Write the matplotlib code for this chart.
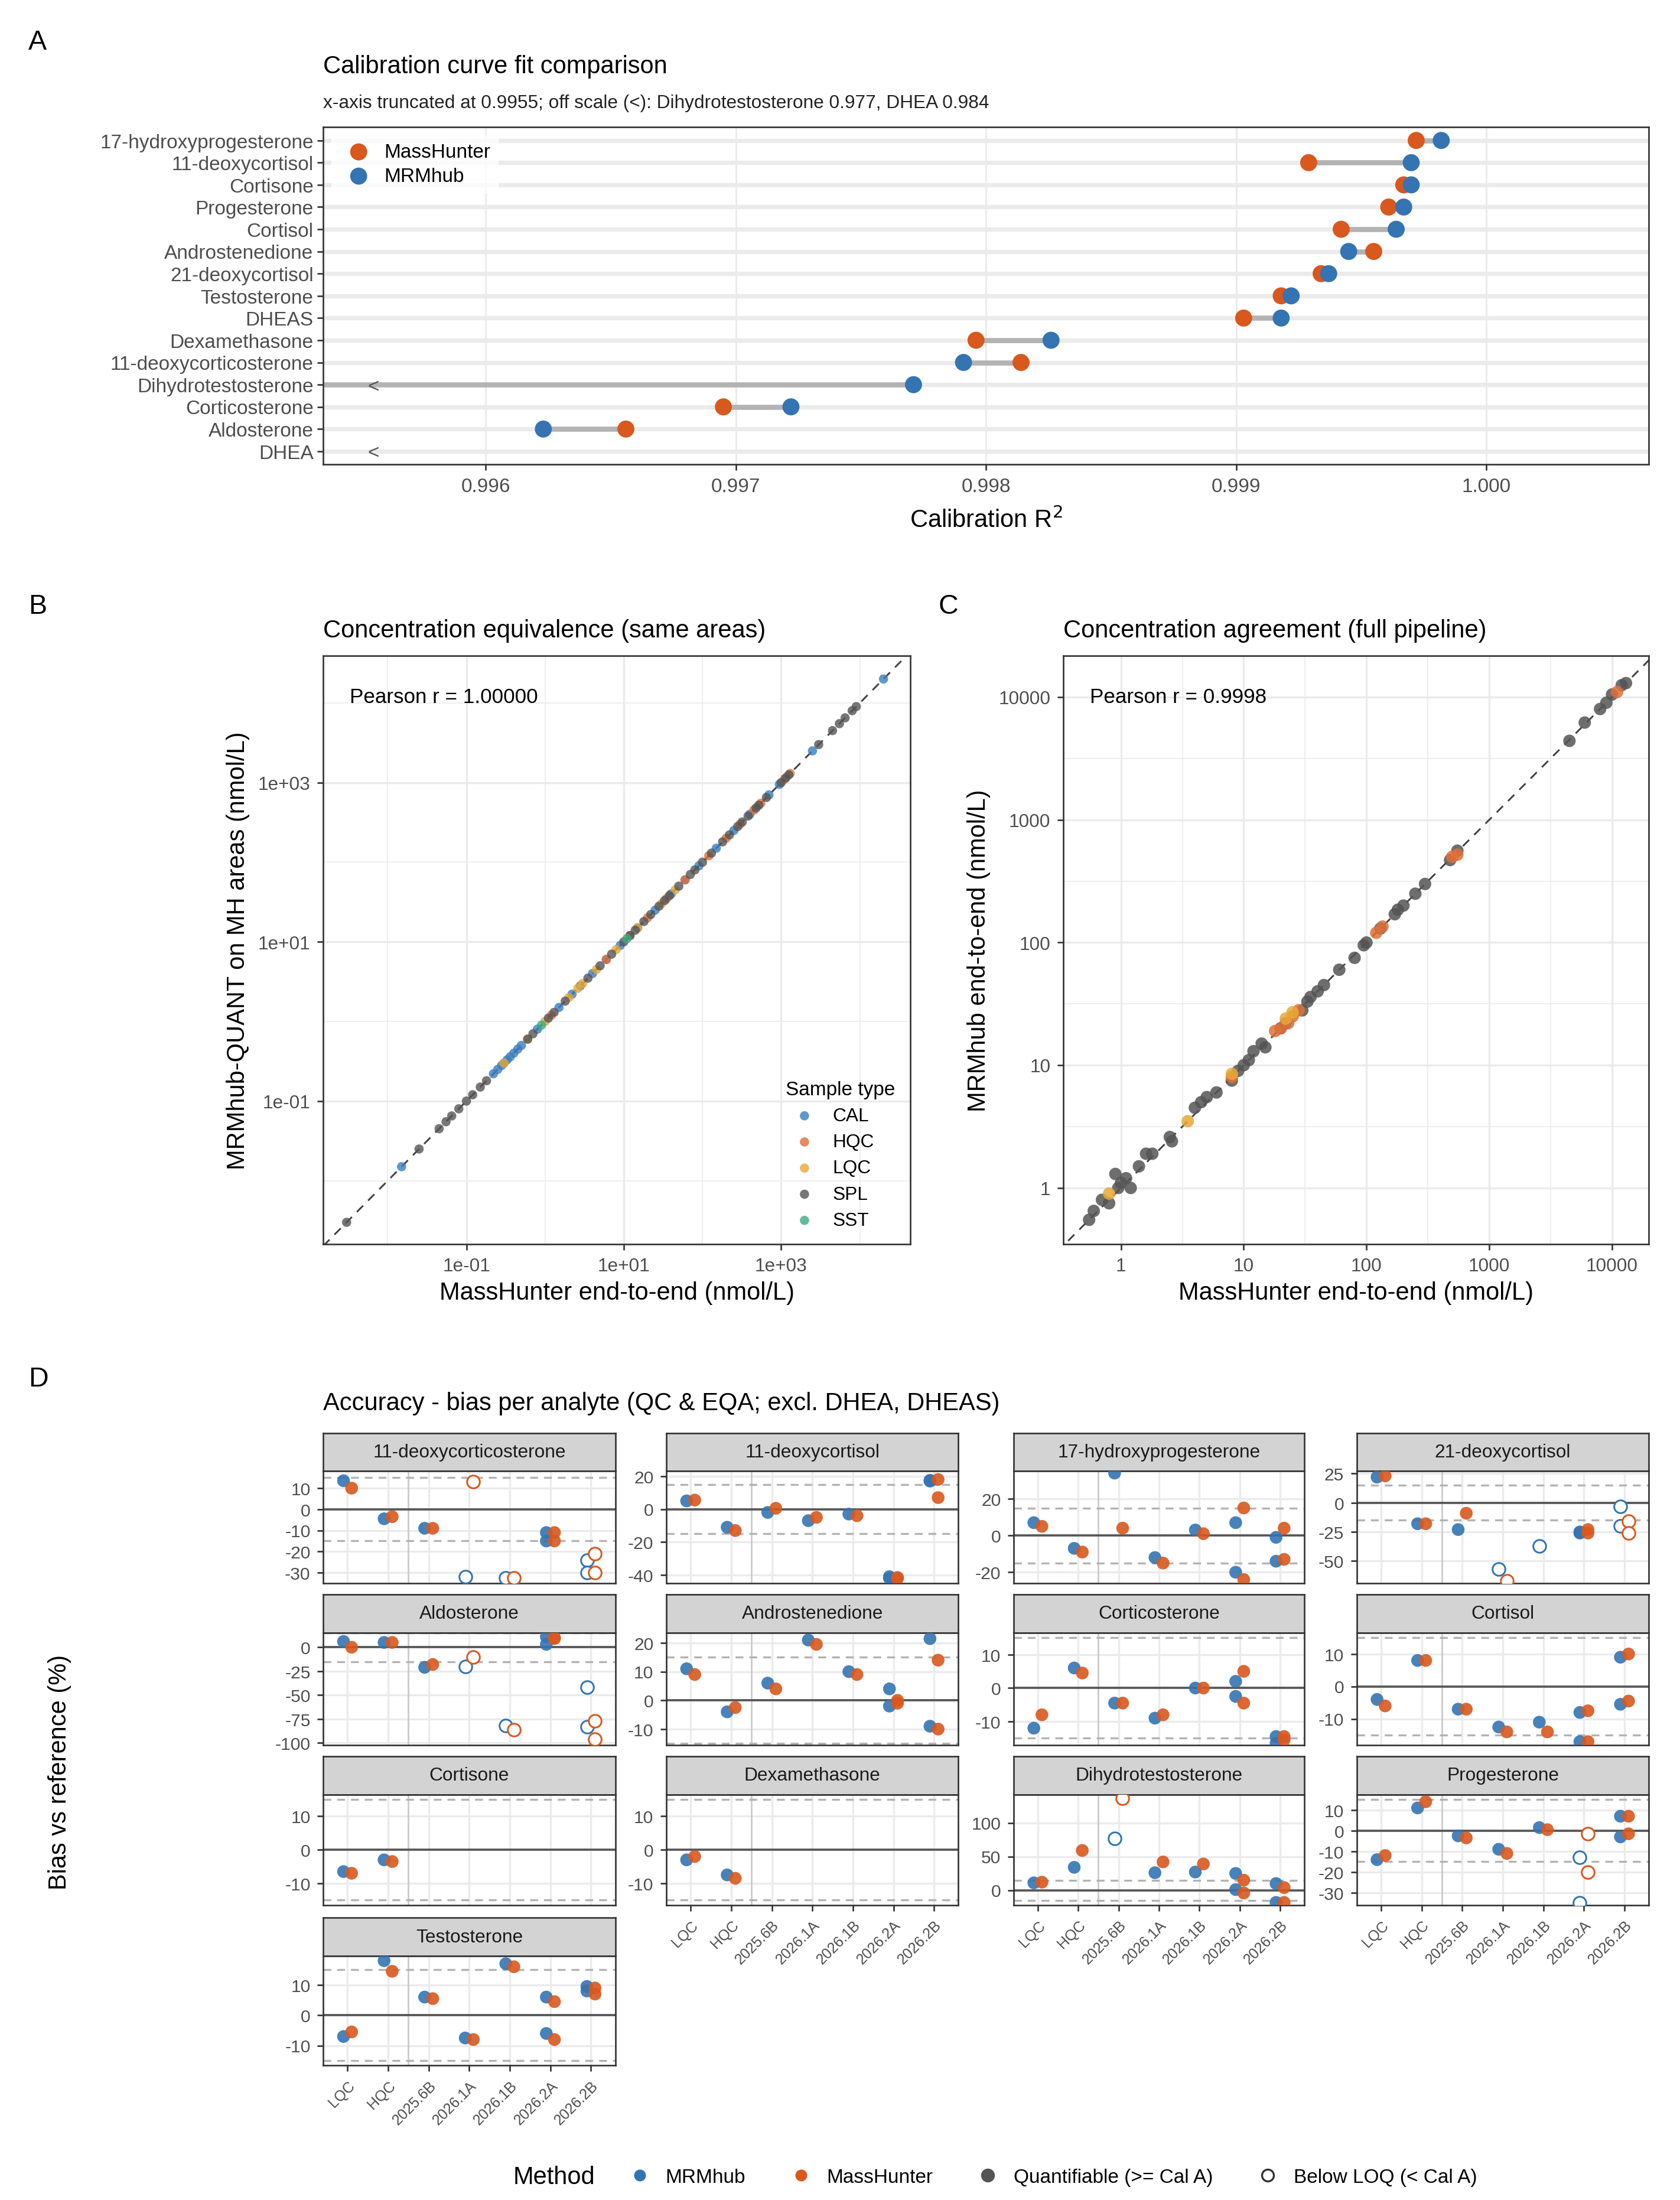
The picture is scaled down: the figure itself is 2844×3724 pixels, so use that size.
import numpy as np
import matplotlib
matplotlib.use("Agg")
import matplotlib.pyplot as plt
from matplotlib.lines import Line2D

plt.rcParams["font.family"] = ["Liberation Sans", "DejaVu Sans"]

BLUE = "#3474B3"
ORANGE = "#D9581E"
GRID = "#EBEBEB"

# ---------------- Panel A data ----------------
A_ANALYTES = ["17-hydroxyprogesterone", "11-deoxycortisol", "Cortisone", "Progesterone",
              "Cortisol", "Androstenedione", "21-deoxycortisol", "Testosterone", "DHEAS",
              "Dexamethasone", "11-deoxycorticosterone", "Dihydrotestosterone",
              "Corticosterone", "Aldosterone", "DHEA"]
A_MH = [0.99972, 0.99929, 0.99967, 0.99961, 0.99942, 0.99955, 0.99934, 0.99918, 0.99903,
        0.99796, 0.99814, 0.977, 0.99695, 0.99656, 0.984]
A_MR = [0.99982, 0.99970, 0.99970, 0.99967, 0.99964, 0.99945, 0.99937, 0.99922, 0.99918,
        0.99826, 0.99791, 0.99771, 0.99722, 0.99623, np.nan]
A_XMIN, A_XMAX = 0.99535, 1.00065

# ---------------- Panel B data (same areas, identical concentrations) ----------------
B_CAL = [0.015, 0.22, 0.25, 0.28, 0.3, 0.33, 0.36, 0.4, 0.45, 0.5, 0.8, 1.5, 2.2, 2.8, 4,
         6, 9, 15, 25, 40, 60, 90, 150, 250, 400, 700, 950, 2500, 20000]
B_HQC = [1.2, 6, 12, 20, 35, 60, 120, 200, 300, 450, 550, 1100, 1300]
B_LQC = [0.3, 0.6, 1.0, 2.0, 2.6, 3.0, 4.5, 8, 15, 30, 45]
B_SPL = [0.003, 0.025, 0.045, 0.055, 0.065, 0.08, 0.1, 0.12, 0.15, 0.18, 0.6, 0.7, 1.1, 1.3,
         1.8, 3.5, 5, 7, 10, 12, 14, 18, 22, 28, 33, 38, 50, 70, 80, 100, 130, 180, 220, 280,
         320, 380, 480, 520, 650, 1000, 1150, 1250, 3000, 4500, 5500, 6500, 8000, 9000]
B_SST = [0.9, 11]

# ---------------- Panel C data (full pipeline) ----------------
C_SPL_X = [0.55, 0.6, 0.7, 0.8, 0.9, 0.95, 1.0, 1.1, 1.2, 1.4, 1.6, 1.8, 2.5, 2.6, 4, 4.5,
           5, 6, 8, 9, 10, 11, 12, 14, 15, 20, 22, 30, 33, 35, 40, 45, 60, 80, 95, 100,
           130, 170, 180, 200, 250, 300, 480, 550, 4500, 6000, 8000, 9000, 10000, 12000, 13000]
C_SPL_Y = [0.55, 0.65, 0.8, 0.75, 1.3, 1.0, 1.1, 1.2, 1.0, 1.5, 1.9, 1.9, 2.6, 2.4, 4.5, 5,
           5.5, 6, 7.5, 9, 10, 11, 13, 15, 14, 20, 22, 28, 33, 36, 40, 45, 60, 75, 95, 100,
           130, 170, 185, 200, 250, 300, 470, 560, 4400, 6200, 8000, 9000, 10500, 12500, 13000]
C_HQC_X = [8, 18, 20, 23, 25, 28, 120, 135, 500, 550, 11000]
C_HQC_Y = [8, 19, 20, 22, 25, 28, 120, 135, 500, 520, 11000]
C_LQC_X = [0.8, 3.5, 8, 22, 25]
C_LQC_Y = [0.9, 3.5, 8.5, 24, 27]

# ---------------- Panel D data ----------------
D_CATS = ["LQC", "HQC", "2025.6B", "2026.1A", "2026.1B", "2026.2A", "2026.2B"]
D_ORDER = ["11-deoxycorticosterone", "11-deoxycortisol", "17-hydroxyprogesterone",
           "21-deoxycortisol", "Aldosterone", "Androstenedione", "Corticosterone",
           "Cortisol", "Cortisone", "Dexamethasone", "Dihydrotestosterone",
           "Progesterone", "Testosterone"]
# rows: (category index, method 'R' MRMhub / 'M' MassHunter, bias %, below LOQ)
D_DATA = {
    "11-deoxycorticosterone": [
        (0, "R", 13.5, 0), (0, "M", 10, 0), (1, "R", -4.5, 0), (1, "M", -3.5, 0),
        (2, "R", -9, 0), (2, "M", -9, 0), (3, "R", -32, 1), (3, "M", 13, 1),
        (4, "R", -32.5, 1), (4, "M", -32.5, 1), (5, "R", -11, 0), (5, "R", -15, 0),
        (5, "M", -11, 0), (5, "M", -15, 0), (6, "R", -24, 1), (6, "R", -30, 1),
        (6, "M", -21, 1), (6, "M", -30, 1)],
    "11-deoxycortisol": [
        (0, "R", 5, 0), (0, "M", 5.5, 0), (1, "R", -11, 0), (1, "M", -13, 0),
        (2, "R", -2, 0), (2, "M", 0.5, 0), (3, "R", -7, 0), (3, "M", -5, 0),
        (4, "R", -3, 0), (4, "M", -4, 0), (5, "R", -41, 0), (5, "R", -42, 0),
        (5, "M", -42, 0), (5, "M", -41.5, 0), (6, "R", 17, 0), (6, "R", 17.5, 0),
        (6, "M", 18, 0), (6, "M", 7, 0)],
    "17-hydroxyprogesterone": [
        (0, "R", 7, 0), (0, "M", 5, 0), (1, "R", -7, 0), (1, "M", -9, 0),
        (2, "R", 34, 0), (2, "M", 4, 0), (3, "R", -12, 0), (3, "M", -15, 0),
        (4, "R", 3, 0), (4, "M", 1, 0), (5, "R", 7, 0), (5, "R", -20, 0),
        (5, "M", 15, 0), (5, "M", -24, 0), (6, "R", -1, 0), (6, "R", -14, 0),
        (6, "M", 4, 0), (6, "M", -13, 0)],
    "21-deoxycortisol": [
        (0, "R", 22, 0), (0, "M", 23, 0), (1, "R", -18, 0), (1, "M", -18, 0),
        (2, "R", -23, 0), (2, "M", -9, 0), (3, "R", -57, 1), (3, "M", -67, 1),
        (4, "R", -37, 1), (5, "R", -26, 0), (5, "R", -25, 0), (5, "M", -23, 0),
        (5, "M", -26, 0), (6, "R", -3, 1), (6, "R", -20, 1), (6, "M", -16, 1),
        (6, "M", -26, 1)],
    "Aldosterone": [
        (0, "R", 6, 0), (0, "M", 0, 0), (1, "R", 5, 0), (1, "M", 5, 0),
        (2, "R", -21, 0), (2, "M", -18, 0), (3, "R", -20, 1), (3, "M", -10, 1),
        (4, "R", -82, 1), (4, "M", -86, 1), (5, "R", 11, 0), (5, "R", 3, 0),
        (5, "M", 10, 0), (5, "M", 9, 0), (6, "R", -42, 1), (6, "R", -83, 1),
        (6, "M", -77, 1), (6, "M", -96, 1)],
    "Androstenedione": [
        (0, "R", 11, 0), (0, "M", 9, 0), (1, "R", -4, 0), (1, "M", -2.5, 0),
        (2, "R", 6, 0), (2, "M", 4, 0), (3, "R", 21, 0), (3, "M", 19.5, 0),
        (4, "R", 10, 0), (4, "M", 9, 0), (5, "R", 4, 0), (5, "R", -2, 0),
        (5, "M", 0, 0), (5, "M", -1, 0), (6, "R", 21.5, 0), (6, "R", -9, 0),
        (6, "M", 14, 0), (6, "M", -10, 0)],
    "Corticosterone": [
        (0, "R", -12, 0), (0, "M", -8, 0), (1, "R", 6, 0), (1, "M", 4.5, 0),
        (2, "R", -4.5, 0), (2, "M", -4.5, 0), (3, "R", -9, 0), (3, "M", -8, 0),
        (4, "R", 0, 0), (4, "M", 0, 0), (5, "R", 2, 0), (5, "R", -2.5, 0),
        (5, "M", 5, 0), (5, "M", -4.5, 0), (6, "R", -14.5, 0), (6, "R", -16.5, 0),
        (6, "M", -14.5, 0), (6, "M", -15.5, 0)],
    "Cortisol": [
        (0, "R", -4, 0), (0, "M", -6, 0), (1, "R", 8, 0), (1, "M", 8, 0),
        (2, "R", -7, 0), (2, "M", -7, 0), (3, "R", -12.5, 0), (3, "M", -14, 0),
        (4, "R", -11, 0), (4, "M", -14, 0), (5, "R", -8, 0), (5, "R", -17, 0),
        (5, "M", -7.5, 0), (5, "M", -17, 0), (6, "R", 9, 0), (6, "R", -5.5, 0),
        (6, "M", 10, 0), (6, "M", -4.5, 0)],
    "Cortisone": [
        (0, "R", -6.5, 0), (0, "M", -7, 0), (1, "R", -3, 0), (1, "M", -3.5, 0)],
    "Dexamethasone": [
        (0, "R", -3, 0), (0, "M", -2, 0), (1, "R", -7.5, 0), (1, "M", -8.5, 0)],
    "Dihydrotestosterone": [
        (0, "R", 11, 0), (0, "M", 12, 0), (1, "R", 34, 0), (1, "M", 59, 0),
        (2, "R", 77, 1), (2, "M", 136, 1), (3, "R", 26, 0), (3, "M", 42, 0),
        (4, "R", 27, 0), (4, "M", 39, 0), (5, "R", 25, 0), (5, "R", 1, 0),
        (5, "M", 15, 0), (5, "M", -4, 0), (6, "R", 10, 0), (6, "R", -18, 0),
        (6, "M", 4, 0), (6, "M", -18, 0)],
    "Progesterone": [
        (0, "R", -14, 0), (0, "M", -12, 0), (1, "R", 11, 0), (1, "M", 14, 0),
        (2, "R", -2.5, 0), (2, "M", -3.5, 0), (3, "R", -9, 0), (3, "M", -11, 0),
        (4, "R", 1.5, 0), (4, "M", 0.5, 0), (5, "R", -13, 1), (5, "R", -35, 1),
        (5, "M", -1.5, 1), (5, "M", -20, 1), (6, "R", 7, 0), (6, "R", -3, 0),
        (6, "M", 7, 0), (6, "M", -1.5, 0)],
    "Testosterone": [
        (0, "R", -7, 0), (0, "M", -5.5, 0), (1, "R", 18, 0), (1, "M", 14.5, 0),
        (2, "R", 6, 0), (2, "M", 5.5, 0), (3, "R", -7.5, 0), (3, "M", -8, 0),
        (4, "R", 17, 0), (4, "M", 16, 0), (5, "R", 6, 0), (5, "R", -6, 0),
        (5, "M", 4.5, 0), (5, "M", -8, 0), (6, "R", 9.5, 0), (6, "R", 8, 0),
        (6, "M", 9, 0), (6, "M", 7, 0)],
}
D_YLIM = {
    "11-deoxycorticosterone": (-35, 18, [10, 0, -10, -20, -30]),
    "11-deoxycortisol": (-45, 23, [20, 0, -20, -40]),
    "17-hydroxyprogesterone": (-26, 35, [20, 0, -20]),
    "21-deoxycortisol": (-69, 27, [25, 0, -25, -50]),
    "Aldosterone": (-102, 15, [0, -25, -50, -75, -100]),
    "Androstenedione": (-15.5, 23.5, [20, 10, 0, -10]),
    "Corticosterone": (-17, 16.5, [10, 0, -10]),
    "Cortisol": (-18, 16.5, [10, 0, -10]),
    "Cortisone": (-16.5, 16.5, [10, 0, -10]),
    "Dexamethasone": (-16.5, 16.5, [10, 0, -10]),
    "Dihydrotestosterone": (-22, 142, [100, 50, 0]),
    "Progesterone": (-36, 17.5, [10, 0, -10, -20, -30]),
    "Testosterone": (-16.5, 19.5, [10, 0, -10]),
}

W, H = 1185.0, 1552.0


def rect(x0, y0, x1, y1):
    return [x0 / W, 1 - y1 / H, (x1 - x0) / W, (y1 - y0) / H]


def style_bw(ax, tick_size=9):
    for s in ax.spines.values():
        s.set_color("#333333")
        s.set_linewidth(0.8)
    ax.tick_params(colors="#333333", labelcolor="#4D4D4D", labelsize=tick_size,
                   length=3, width=0.8)
    ax.set_axisbelow(True)


fig = plt.figure(figsize=(W / 100, H / 100), dpi=240)

# ================= Panel A =================
ax = fig.add_axes(rect(228, 90, 1163, 328))
style_bw(ax, 10)
n = len(A_ANALYTES)
ys = np.arange(n)[::-1]
for y in ys:
    ax.axhline(y, color=GRID, lw=2.2, zorder=0)
for t in [0.996, 0.997, 0.998, 0.999, 1.000]:
    ax.axvline(t, color=GRID, lw=0.9, zorder=0)
for y, mh, mr in zip(ys, A_MH, A_MR):
    mh_c = max(mh, A_XMIN)
    mr_c = A_XMIN if np.isnan(mr) else max(mr, A_XMIN)
    if not np.isnan(mr):
        ax.plot([mh_c, mr_c], [y, y], color="#B3B3B3", lw=2.6, zorder=1,
                solid_capstyle="butt")
    if mh < A_XMIN or (not np.isnan(mr) and mr < A_XMIN) or np.isnan(mr):
        ax.text(0.99555, y - 0.1, "<", ha="center", va="center", fontsize=10,
                color="#555555")
mh_ok = [v if v >= A_XMIN else np.nan for v in A_MH]
mr_ok = [v if (not np.isnan(v) and v >= A_XMIN) else np.nan for v in A_MR]
ax.scatter(mh_ok, ys, s=75, color=ORANGE, zorder=3, label="MassHunter", edgecolor="none")
ax.scatter(mr_ok, ys, s=75, color=BLUE, zorder=4, label="MRMhub", edgecolor="none")
ax.set_xlim(A_XMIN, A_XMAX)
ax.set_ylim(-0.6, n - 0.4)
ax.set_yticks(ys)
ax.set_yticklabels(A_ANALYTES)
ax.tick_params(axis="y", pad=2)
ax.set_xticks([0.996, 0.997, 0.998, 0.999, 1.000])
ax.set_xticklabels(["0.996", "0.997", "0.998", "0.999", "1.000"])
ax.set_xlabel("Calibration R$^2$", fontsize=12.5, labelpad=6)
leg = ax.legend(loc="upper left", frameon=True, fontsize=10, handletextpad=0.3,
                borderaxespad=0.4, labelspacing=0.3)
leg.get_frame().set_edgecolor("none")
fig.text(228 / W, 1 - 47 / H, "Calibration curve fit comparison", fontsize=12.5, va="center")
fig.text(228 / W, 1 - 73 / H,
         "x-axis truncated at 0.9955; off scale (<): Dihydrotestosterone 0.977, DHEA 0.984",
         fontsize=9.5, va="center", color="#222222")
fig.text(20 / W, 1 - 30 / H, "A", fontsize=14, va="center")

# ================= Panel B =================
ax = fig.add_axes(rect(228, 463, 642, 878))
style_bw(ax, 9.5)
lo, hi = 10 ** -2.82, 10 ** 4.64
ax.set_xscale("log")
ax.set_yscale("log")
ax.set_xlim(lo, hi)
ax.set_ylim(10 ** -2.8, 10 ** 4.59)
for t in [1e-3, 1e-1, 1e1, 1e3]:
    ax.axvline(t, color=GRID, lw=1.0, zorder=0)
    ax.axhline(t, color=GRID, lw=1.0, zorder=0)
for t in [1e-2, 1e0, 1e2, 1e4]:
    ax.axvline(t, color=GRID, lw=0.5, zorder=0)
    ax.axhline(t, color=GRID, lw=0.5, zorder=0)
ax.plot([lo, hi], [lo, hi], ls=(0, (5, 4)), color="#444444", lw=0.9, zorder=1)
b_groups = [("CAL", B_CAL, "#3A7DC0"), ("HQC", B_HQC, "#E0703A"), ("LQC", B_LQC, "#E8A838"),
            ("SPL", B_SPL, "#555555"), ("SST", B_SST, "#3BAA80")]
for lab, vals, col in b_groups:
    ax.scatter(vals, vals, s=22, color=col, alpha=0.8, edgecolor="none", zorder=2, label=lab)
ax.set_xticks([1e-1, 1e1, 1e3])
ax.set_xticklabels(["1e-01", "1e+01", "1e+03"])
ax.set_yticks([1e-1, 1e1, 1e3])
ax.set_yticklabels(["1e-01", "1e+01", "1e+03"])
ax.minorticks_off()
ax.set_xlabel("MassHunter end-to-end (nmol/L)", fontsize=12.5, labelpad=3)
ax.set_ylabel("MRMhub-QUANT on MH areas (nmol/L)", fontsize=12.5, labelpad=4)
ax.text(0.045, 0.93, "Pearson r = 1.00000", transform=ax.transAxes, fontsize=10.5, va="center")
leg = ax.legend(title="Sample type", loc="lower right", frameon=False, fontsize=9.5,
                title_fontsize=10, markerscale=1.0, handletextpad=0.5, labelspacing=0.45,
                borderaxespad=0.4)
leg._legend_box.align = "left"
fig.text(228 / W, 1 - 445 / H, "Concentration equivalence (same areas)", fontsize=12.5, va="center")
fig.text(20 / W, 1 - 428 / H, "B", fontsize=14, va="center")

# ================= Panel C =================
ax = fig.add_axes(rect(750, 463, 1163, 878))
style_bw(ax, 9.5)
ax.set_xscale("log")
ax.set_yscale("log")
ax.set_xlim(10 ** -0.47, 10 ** 4.3)
ax.set_ylim(10 ** -0.46, 10 ** 4.335)
for t in [1, 10, 100, 1000, 10000]:
    ax.axvline(t, color=GRID, lw=1.0, zorder=0)
    ax.axhline(t, color=GRID, lw=1.0, zorder=0)
for t in [10 ** 0.5, 10 ** 1.5, 10 ** 2.5, 10 ** 3.5]:
    ax.axvline(t, color=GRID, lw=0.5, zorder=0)
    ax.axhline(t, color=GRID, lw=0.5, zorder=0)
ax.plot([0.3, 3e4], [0.3, 3e4], ls=(0, (5, 4)), color="#444444", lw=0.9, zorder=1)
ax.scatter(C_SPL_X, C_SPL_Y, s=40, color="#555555", alpha=0.85, edgecolor="none", zorder=2)
ax.scatter(C_HQC_X, C_HQC_Y, s=40, color="#E0703A", alpha=0.85, edgecolor="none", zorder=2)
ax.scatter(C_LQC_X, C_LQC_Y, s=40, color="#E8A838", alpha=0.85, edgecolor="none", zorder=2)
ax.set_xticks([1, 10, 100, 1000, 10000])
ax.set_xticklabels(["1", "10", "100", "1000", "10000"])
ax.set_yticks([1, 10, 100, 1000, 10000])
ax.set_yticklabels(["1", "10", "100", "1000", "10000"])
ax.minorticks_off()
ax.set_xlabel("MassHunter end-to-end (nmol/L)", fontsize=12.5, labelpad=3)
ax.set_ylabel("MRMhub end-to-end (nmol/L)", fontsize=12.5, labelpad=4)
ax.text(0.045, 0.93, "Pearson r = 0.9998", transform=ax.transAxes, fontsize=10.5, va="center")
fig.text(750 / W, 1 - 445 / H, "Concentration agreement (full pipeline)", fontsize=12.5, va="center")
fig.text(662 / W, 1 - 428 / H, "C", fontsize=14, va="center")

# ================= Panel D =================
cols_x = [(228, 434), (470, 676), (715, 920), (957, 1163)]
rows_y = [(1011, 1038, 1117), (1125, 1152, 1231), (1239, 1266, 1344), (1353, 1380, 1457)]
with_xlabels = {"Dexamethasone", "Dihydrotestosterone", "Progesterone", "Testosterone"}
for k, name in enumerate(D_ORDER):
    r, c = divmod(k, 4)
    x0, x1 = cols_x[c]
    ys0, yp0, yp1 = rows_y[r]
    sax = fig.add_axes(rect(x0, ys0, x1, yp0))
    sax.set_facecolor("#D3D3D3")
    sax.set_xticks([])
    sax.set_yticks([])
    for s in sax.spines.values():
        s.set_color("#333333")
        s.set_linewidth(0.8)
    sax.text(0.5, 0.5, name, ha="center", va="center", fontsize=9.5, color="#1A1A1A",
             transform=sax.transAxes)
    ax = fig.add_axes(rect(x0, yp0, x1, yp1))
    style_bw(ax, 9)
    lo_y, hi_y, ticks = D_YLIM[name]
    ax.set_xlim(-0.6, 6.6)
    ax.set_ylim(lo_y, hi_y)
    ax.set_yticks(ticks)
    ax.set_yticklabels([str(t) for t in ticks])
    for t in ticks:
        ax.axhline(t, color=GRID, lw=1.0, zorder=0)
    for i in range(len(D_CATS)):
        ax.axvline(i, color=GRID, lw=1.0, zorder=0)
    ax.axvline(1.5, color="#C8C8C8", lw=0.8, zorder=0)
    ax.axhline(15, color="#B3B3B3", lw=1.0, ls=(0, (4, 3)), zorder=1)
    ax.axhline(-15, color="#B3B3B3", lw=1.0, ls=(0, (4, 3)), zorder=1)
    ax.axhline(0, color="#555555", lw=1.1, zorder=1)
    for cat, meth, val, bloq in D_DATA[name]:
        col = BLUE if meth == "R" else ORANGE
        xx = cat - 0.1 if meth == "R" else cat + 0.1
        if bloq:
            ax.scatter(xx, val, s=42, facecolor="white", edgecolor=col, lw=0.9, zorder=3)
        else:
            ax.scatter(xx, val, s=42, color=col, alpha=0.9, edgecolor="none", zorder=3)
    ax.set_xticks(range(len(D_CATS)))
    if name in with_xlabels:
        ax.set_xticklabels(D_CATS, rotation=45, ha="right", fontsize=7.5,
                           rotation_mode="anchor")
    else:
        ax.set_xticklabels([])
        ax.tick_params(axis="x", length=0)
fig.text(228 / W, 1 - 990 / H, "Accuracy - bias per analyte (QC & EQA; excl. DHEA, DHEAS)",
         fontsize=12.5, va="center")
fig.text(20 / W, 1 - 973 / H, "D", fontsize=14, va="center")
fig.text(42 / W, 1 - 1250 / H, "Bias vs reference (%)", fontsize=12.5, rotation=90,
         ha="center", va="center")

handles = [Line2D([], [], ls="", marker="o", ms=5, color=BLUE, label="MRMhub"),
           Line2D([], [], ls="", marker="o", ms=5, color=ORANGE, label="MassHunter"),
           Line2D([], [], ls="", marker="o", ms=6, color="#555555", label="Quantifiable (>= Cal A)"),
           Line2D([], [], ls="", marker="o", ms=6, markerfacecolor="white",
                  markeredgecolor="#333333", label="Below LOQ (< Cal A)")]
fig.text(362 / W, 1 - 1536 / H, "Method", fontsize=12.5, va="center")
fig.legend(handles=handles, loc="center left", bbox_to_anchor=(425 / W, 1 - 1536 / H),
           ncol=4, frameon=False, fontsize=10, handletextpad=0.3, columnspacing=1.8)

fig.savefig("out.png", dpi=240, facecolor="white")
